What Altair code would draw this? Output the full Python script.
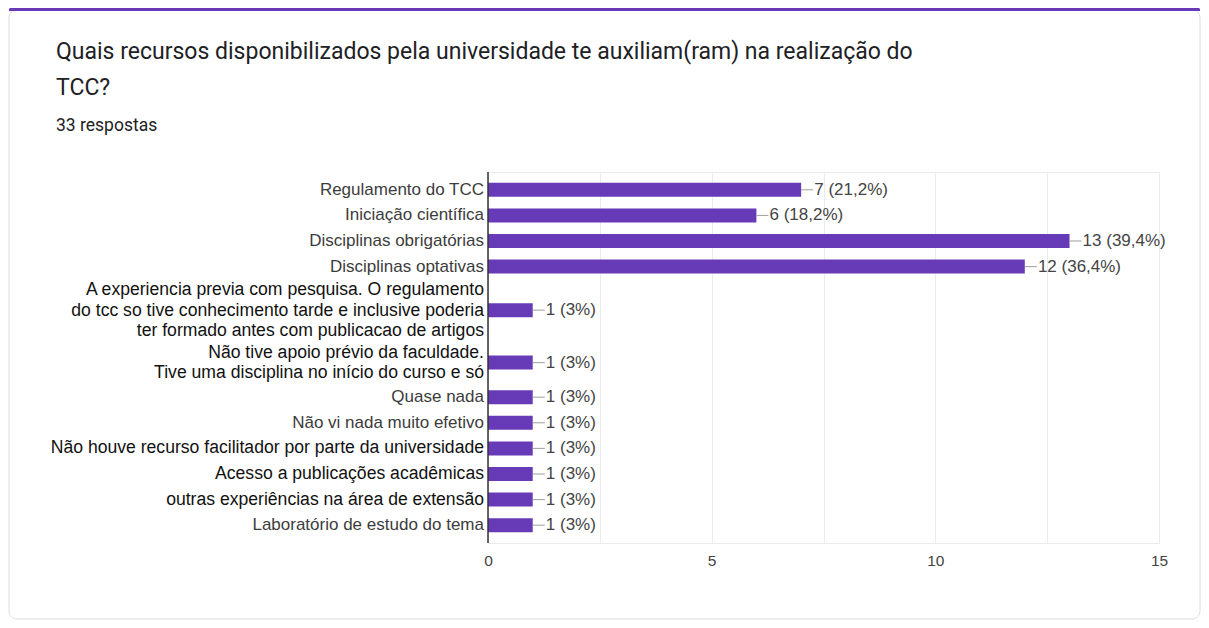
import altair as alt
import pandas as pd

# ---- data ----
categories = [
    "Regulamento do TCC",
    "Iniciação científica",
    "Disciplinas obrigatórias",
    "Disciplinas optativas",
    "A experiencia previa com pesquisa. O regulamento\ndo tcc so tive conhecimento tarde e inclusive poderia\nter formado antes com publicacao de artigos",
    "Não tive apoio prévio da faculdade.\nTive uma disciplina no início do curso e só",
    "Quase nada",
    "Não vi nada muito efetivo",
    "Não houve recurso facilitador por parte da universidade",
    "Acesso a publicações acadêmicas",
    "outras experiências na área de extensão",
    "Laboratório de estudo do tema",
]
counts = [7, 6, 13, 12, 1, 1, 1, 1, 1, 1, 1, 1]
total_responses = 33
x_grid_values = [0, 2.5, 5, 7.5, 10, 12.5, 15]

title_lines = [
    "Quais recursos disponibilizados pela universidade te auxiliam(ram) na realização do",
    "TCC?",
]
subtitle = f"{total_responses} respostas"

# ---- styling ----
PURPLE = "#673ab7"
W, H = 671, 371
PAD = {"left": 480, "top": 164, "right": 42, "bottom": 77}
LABEL_LH = 20.5
extra_per_line = 0.7
emphasized_rows = [4, 5, 8, 9, 10]   # labels drawn larger/darker in the reference

# ---- table: each row gets vertical room according to its number of label lines ----
rows = []
cum = 0.0
for i, (lab, n) in enumerate(zip(categories, counts)):
    nlines = lab.count("\n") + 1
    h = 1 + extra_per_line * (nlines - 1)
    rows.append({"idx": i, "label": lab, "n": n, "nlines": nlines, "center": cum + h / 2})
    cum += h
total_h = cum
units_per_px = total_h / H
df = pd.DataFrame(rows)
df["label_y"] = df["center"] - (df["nlines"] - 1) / 2 * LABEL_LH * units_per_px

x_scale = alt.Scale(domain=[0, 15], nice=False)
y_scale = alt.Scale(domain=[0, total_h], reverse=True, nice=False, zero=False)

emph_test = "indexof(%s, datum.idx) >= 0" % str(emphasized_rows)

base = alt.Chart(df).transform_calculate(
    lines="split(datum.label, '\\n')",
    lead="datum.n + 0.27",
    vlabel="datum.n + ' (' + replace(format(datum.n / %d * 100, '.1~f'), '.', ',') + '%%)'" % total_responses,
)

dummy = alt.Chart(pd.DataFrame({"z": [0]}))

card = dummy.mark_rect(filled=False, stroke="#dadce0", strokeWidth=1, cornerRadius=8).encode(
    x=alt.value(-479), x2=alt.value(712), y=alt.value(-162), y2=alt.value(447)
)
topbar = dummy.mark_rect(fill=PURPLE, cornerRadiusTopLeft=6, cornerRadiusTopRight=6).encode(
    x=alt.value(-479), x2=alt.value(712), y=alt.value(-164), y2=alt.value(-161)
)

title = dummy.mark_text(
    align="left", baseline="middle", font="Roboto", fontSize=23, lineHeight=36, color="#202124"
).encode(x=alt.value(-432), y=alt.value(-120), text=alt.value(title_lines))

sub = dummy.mark_text(
    align="left", baseline="middle", font="Roboto", fontSize=17.5, color="#202124"
).encode(x=alt.value(-432), y=alt.value(-46), text=alt.value(subtitle))

bars = base.mark_bar(color=PURPLE, size=14, orient="horizontal").encode(
    x=alt.X(
        "n:Q",
        scale=x_scale,
        title=None,
        axis=alt.Axis(
            values=x_grid_values,
            labelExpr="datum.value % 5 == 0 ? datum.label : ''",
            grid=True,
            gridColor="#ebebeb",
            domain=False,
            ticks=False,
            labelFlush=False,
            labelFont="Liberation Sans",
            labelFontSize=15.5,
            labelColor="#444444",
            labelPadding=10,
        ),
    ),
    x2=alt.datum(0),
    y=alt.Y("center:Q", scale=y_scale, axis=None),
)

baseline = dummy.mark_rule(color="#333333", strokeWidth=1.5).encode(x=alt.datum(0))

cat_labels = base.mark_text(
    align="right", baseline="middle", dx=-4, font="Liberation Sans", lineHeight=LABEL_LH,
).encode(
    x=alt.datum(0),
    y=alt.Y("label_y:Q", scale=y_scale),
    text=alt.Text("lines:N"),
    size=alt.condition(emph_test, alt.value(17.6), alt.value(17)),
    color=alt.condition(emph_test, alt.value("#111111"), alt.value("#3c3c3c")),
)

leaders = base.mark_rule(color="#9e9e9e", strokeWidth=1).encode(
    x="n:Q", x2="lead:Q", y=alt.Y("center:Q", scale=y_scale)
)

val_labels = base.mark_text(
    align="left", baseline="middle", dx=1, font="Liberation Sans", fontSize=17, color="#444444"
).encode(x="lead:Q", y=alt.Y("center:Q", scale=y_scale), text="vlabel:N")

chart = (
    alt.layer(card, topbar, title, sub, bars, baseline, leaders, cat_labels, val_labels)
    .properties(
        width=W,
        height=H,
        padding=PAD,
        autosize=alt.AutoSizeParams(type="none"),
        background="white",
    )
    .configure_view(stroke="#ebebeb")
)

chart.save("out.html", embed_options={"renderer": "svg", "actions": False})
